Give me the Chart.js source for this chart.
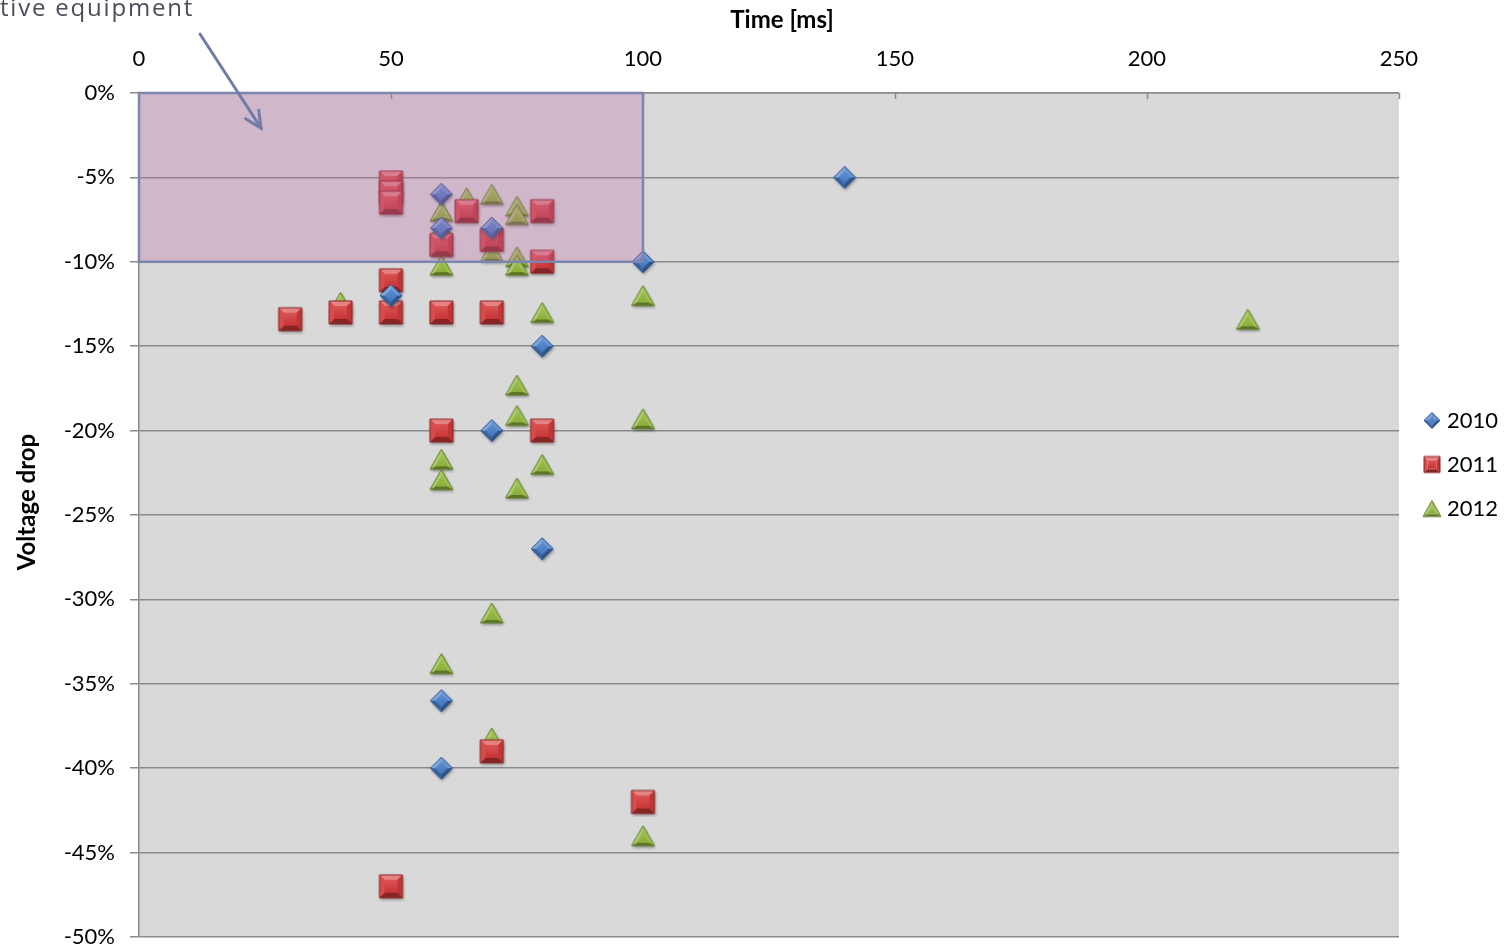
<!DOCTYPE html>
<html>
<head>
<meta charset="utf-8">
<script src="https://cdn.jsdelivr.net/npm/chart.js@4.4.1/dist/chart.umd.min.js"></script>
<style>
  html, body { margin: 0; padding: 0; background: #ffffff; overflow: hidden; }
  #wrap { width: 1509px; height: 946px; position: relative; }
</style>
</head>
<body>
<div id="wrap"><canvas id="c" width="1509" height="946"></canvas></div>
<script>
// ---- Data ----
const seriesNames = ['2010', '2011', '2012'];

const time2010 = [140, 60, 60, 70, 100, 50, 80, 70, 80, 60, 60];
const drop2010 = [-5, -6, -8, -8, -10, -12, -15, -20, -27, -36, -40];

const time2011 = [50, 50, 50, 65, 80, 70, 60, 80, 50, 30, 40, 50, 60, 70, 60, 80, 70, 100, 50];
const drop2011 = [-5.3, -5.9, -6.5, -7, -7, -8.7, -9, -10, -11.1, -13.4, -13, -13, -13, -13, -20, -20, -39, -42, -47];

const time2012 = [65, 70, 75, 75, 60, 60, 60, 60, 70, 75, 75, 60, 100, 40, 80, 220, 75, 75, 100, 60, 60, 80, 75, 70, 60, 70, 100];
const drop2012 = [-6.2, -6, -6.7, -7.2, -7, -8, -8.5, -9, -9.4, -9.7, -10.2, -10.2, -12, -12.4, -13, -13.4, -17.3, -19.1, -19.3, -21.7, -22.9, -22, -23.4, -30.8, -33.8, -38.2, -44];

// Annotation region (sensitive equipment zone)
const zoneTime = [0, 100];
const zoneDrop = [0, -10];

const xTicks = [0, 50, 100, 150, 200, 250];
const yTicks = [0, -5, -10, -15, -20, -25, -30, -35, -40, -45, -50];

const xTitle = 'Time [ms]';
const yTitle = 'Voltage drop';
const noteText = 'tive equipment';

const pts = (xs, ys) => xs.map((x, i) => ({ x: x, y: ys[i] }));

const FONT = 'Lato, "Open Sans", sans-serif';

// ---- Bevelled marker images (Excel-like 3D markers) ----
function shadeColor(rgb, k) {
  return rgb.map(c => {
    const v = k >= 0 ? c + (255 - c) * k : c * (1 + k);
    return Math.max(0, Math.min(255, Math.round(v)));
  });
}
const css = a => 'rgb(' + a.join(',') + ')';

function makeMarker(shape, w, h, base, edge, withShadow) {
  const pad = 4;
  const c = document.createElement('canvas');
  c.width = w + pad * 2;
  c.height = h + pad * 2;
  const ctx = c.getContext('2d');
  const cx = c.width / 2, cy = c.height / 2;
  let verts;
  if (shape === 'diamond') {
    verts = [[cx, cy - h / 2], [cx + w / 2, cy], [cx, cy + h / 2], [cx - w / 2, cy]];
  } else if (shape === 'square') {
    verts = [[cx - w / 2, cy - h / 2], [cx + w / 2, cy - h / 2], [cx + w / 2, cy + h / 2], [cx - w / 2, cy + h / 2]];
  } else {
    verts = [[cx, cy - h / 2], [cx + w / 2, cy + h / 2], [cx - w / 2, cy + h / 2]];
  }
  let gx = 0, gy = 0;
  verts.forEach(v => { gx += v[0]; gy += v[1]; });
  gx /= verts.length; gy /= verts.length;
  if (shape === 'triangle') gy = cy + h / 6;
  const inner = verts.map(v => [gx + (v[0] - gx) * 0.55, gy + (v[1] - gy) * 0.55]);

  if (withShadow) {
    ctx.save();
    ctx.shadowColor = 'rgba(0,0,0,0.35)';
    ctx.shadowBlur = 3;
    ctx.shadowOffsetX = 1;
    ctx.shadowOffsetY = 2;
    ctx.beginPath();
    verts.forEach((v, i) => i ? ctx.lineTo(v[0], v[1]) : ctx.moveTo(v[0], v[1]));
    ctx.closePath();
    ctx.fillStyle = css(base);
    ctx.fill();
    ctx.restore();
  }
  const L = [-0.25, -1];
  const ln = Math.hypot(L[0], L[1]);
  for (let i = 0; i < verts.length; i++) {
    const a = verts[i], b = verts[(i + 1) % verts.length];
    const ia = inner[i], ib = inner[(i + 1) % verts.length];
    let nx = b[1] - a[1], ny = -(b[0] - a[0]);
    const nl = Math.hypot(nx, ny);
    nx /= nl; ny /= nl;
    const d = (nx * L[0] + ny * L[1]) / ln;
    const col = shadeColor(base, d * 0.38);
    ctx.beginPath();
    ctx.moveTo(a[0], a[1]);
    ctx.lineTo(b[0], b[1]);
    ctx.lineTo(ib[0], ib[1]);
    ctx.lineTo(ia[0], ia[1]);
    ctx.closePath();
    ctx.fillStyle = css(col);
    ctx.fill();
  }
  const g = ctx.createLinearGradient(0, cy - h / 4, 0, cy + h / 4);
  g.addColorStop(0, css(shadeColor(base, 0.12)));
  g.addColorStop(1, css(shadeColor(base, -0.05)));
  ctx.beginPath();
  inner.forEach((v, i) => i ? ctx.lineTo(v[0], v[1]) : ctx.moveTo(v[0], v[1]));
  ctx.closePath();
  ctx.fillStyle = g;
  ctx.fill();
  ctx.beginPath();
  verts.forEach((v, i) => i ? ctx.lineTo(v[0], v[1]) : ctx.moveTo(v[0], v[1]));
  ctx.closePath();
  ctx.strokeStyle = css(edge);
  ctx.lineWidth = 1;
  ctx.stroke();
  return c;
}

const blue = [70, 126, 200], blueEdge = [40, 80, 140];
const red = [212, 58, 58], redEdge = [140, 36, 36];
const green = [148, 186, 64], greenEdge = [96, 124, 40];

const mk2010 = makeMarker('diamond', 22, 22, blue, blueEdge, true);
const mk2011 = makeMarker('square', 23, 23, red, redEdge, true);
const mk2012 = makeMarker('triangle', 23, 20, green, greenEdge, true);
const lg2010 = makeMarker('diamond', 16, 16, blue, blueEdge, false);
const lg2011 = makeMarker('square', 16, 16, red, redEdge, false);
const lg2012 = makeMarker('triangle', 18, 16, green, greenEdge, false);
const legendMarkers = [lg2010, lg2011, lg2012];

const bgPlugin = {
  id: 'plotBg',
  afterLayout(chart) {
    const lg = chart.legend;
    if (lg) {
      lg.left += 7; lg.right += 7;
      lg.top -= 4; lg.bottom -= 4;
    }
  },
  beforeDraw(chart) {
    const { ctx, chartArea: a } = chart;
    ctx.save();
    ctx.fillStyle = '#d9d9d9';
    ctx.fillRect(a.left, a.top, a.right - a.left, a.bottom - a.top);
    ctx.restore();
  }
};

const overlayPlugin = {
  id: 'zoneOverlay',
  afterDatasetsDraw(chart) {
    const { ctx, scales: { x, y } } = chart;
    const x0 = x.getPixelForValue(zoneTime[0]), x1 = x.getPixelForValue(zoneTime[1]);
    const y0 = y.getPixelForValue(zoneDrop[0]), y1 = y.getPixelForValue(zoneDrop[1]);
    ctx.save();
    ctx.fillStyle = 'rgba(190,107,170,0.30)';
    ctx.fillRect(x0, y0, x1 - x0, y1 - y0);
    ctx.strokeStyle = '#7a86ae';
    ctx.lineWidth = 2.5;
    ctx.strokeRect(x0, y0, x1 - x0, y1 - y0);
    ctx.restore();
  },
  afterDraw(chart) {
    const { ctx, scales: { x, y } } = chart;
    ctx.save();
    // inward tick marks on the top axis
    ctx.strokeStyle = '#8a8a8a';
    ctx.lineWidth = 1.5;
    xTicks.forEach(v => {
      const px = Math.round(x.getPixelForValue(v)) + 0.5;
      ctx.beginPath();
      ctx.moveTo(px, y.top);
      ctx.lineTo(px, y.top + 6);
      ctx.stroke();
    });
    // axis titles
    ctx.fillStyle = '#000';
    ctx.font = 'bold 24px ' + FONT;
    ctx.textAlign = 'center';
    ctx.textBaseline = 'middle';
    ctx.fillText(xTitle, 782, 20);
    ctx.save();
    ctx.translate(27, 502);
    ctx.rotate(-Math.PI / 2);
    ctx.fillText(yTitle, 0, 0);
    ctx.restore();
    // annotation text (cut off at the left edge in the reference)
    ctx.fillStyle = '#4b4b5c';
    ctx.font = '24px "Open Sans", sans-serif';
    ctx.letterSpacing = '1.8px';
    ctx.textBaseline = 'alphabetic';
    ctx.textAlign = 'left';
    ctx.fillText(noteText, 0, 16);
    ctx.letterSpacing = '0px';
    // arrow
    ctx.strokeStyle = '#6f7ca8';
    ctx.lineWidth = 3;
    ctx.lineCap = 'round';
    const ax0 = 200, ay0 = 34, ax1 = 261, ay1 = 128;
    ctx.beginPath();
    ctx.moveTo(ax0, ay0);
    ctx.lineTo(ax1, ay1);
    ctx.stroke();
    const ang = Math.atan2(ay1 - ay0, ax1 - ax0);
    const hl = 18, spread = 0.45;
    ctx.beginPath();
    ctx.moveTo(ax1 - hl * Math.cos(ang - spread), ay1 - hl * Math.sin(ang - spread));
    ctx.lineTo(ax1, ay1);
    ctx.lineTo(ax1 - hl * Math.cos(ang + spread), ay1 - hl * Math.sin(ang + spread));
    ctx.stroke();
    ctx.restore();
  }
};

new Chart(document.getElementById('c'), {
  type: 'scatter',
  data: {
    datasets: [
      {
        label: seriesNames[0],
        data: pts(time2010, drop2010),
        pointStyle: mk2010,
        pointRadius: 11,
        pointHoverRadius: 11,
        backgroundColor: css(blue),
        borderColor: css(blueEdge)
      },
      {
        label: seriesNames[1],
        data: pts(time2011, drop2011),
        pointStyle: mk2011,
        pointRadius: 12,
        pointHoverRadius: 12,
        backgroundColor: css(red),
        borderColor: css(redEdge)
      },
      {
        label: seriesNames[2],
        data: pts(time2012, drop2012),
        pointStyle: mk2012,
        pointRadius: 12,
        pointHoverRadius: 12,
        backgroundColor: css(green),
        borderColor: css(greenEdge)
      }
    ]
  },
  options: {
    responsive: false,
    animation: false,
    layout: { autoPadding: false, padding: { top: 0, right: 8, bottom: 9, left: 0 } },
    plugins: {
      tooltip: { enabled: false },
      legend: {
        position: 'right',
        align: 'center',
        labels: {
          usePointStyle: true,
          boxHeight: 18,
          boxWidth: 8,
          padding: 22,
          color: '#000',
          font: { family: FONT, size: 22 },
          generateLabels(chart) {
            const items = Chart.defaults.plugins.legend.labels.generateLabels(chart);
            items.forEach((it, i) => { it.pointStyle = legendMarkers[i]; });
            return items;
          }
        }
      }
    },
    scales: {
      x: {
        type: 'linear',
        position: 'top',
        min: 0,
        max: 250,
        afterBuildTicks(scale) { scale.ticks = xTicks.map(v => ({ value: v })); },
        afterFit(scale) {
          scale.height = 93;
          scale.paddingLeft = 0;
          scale.paddingRight = 0;
        },
        ticks: {
          color: '#000',
          font: { family: FONT, size: 22 },
          padding: 21,
          maxRotation: 0
        },
        grid: { display: false, drawTicks: false },
        border: { display: true, color: '#8a8a8a', width: 1.5 },
        title: { display: false }
      },
      y: {
        type: 'linear',
        min: -50,
        max: 0,
        afterBuildTicks(scale) { scale.ticks = yTicks.map(v => ({ value: v })); },
        afterFit(scale) {
          scale.width = 139;
          scale.paddingTop = 0;
          scale.paddingBottom = 0;
        },
        ticks: {
          color: '#000',
          font: { family: FONT, size: 22 },
          padding: 15,
          callback: v => v + '%'
        },
        grid: { color: '#8a8a8a', lineWidth: 1.5, tickLength: 9 },
        border: { display: true, color: '#8a8a8a', width: 1.5 },
        title: { display: false }
      }
    }
  },
  plugins: [bgPlugin, overlayPlugin]
});
</script>
</body>
</html>
